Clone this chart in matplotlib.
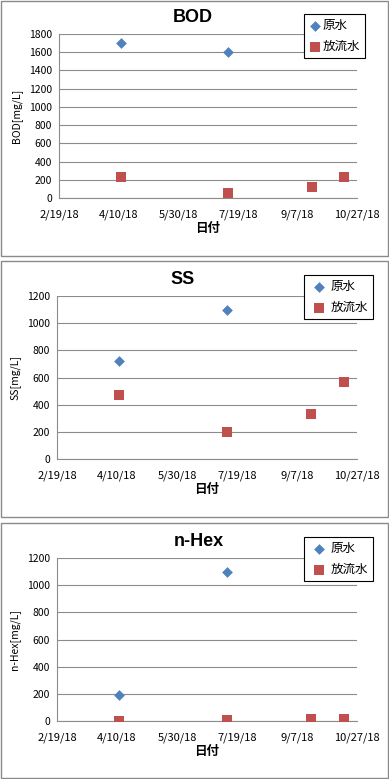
import numpy as np
import pandas as pd
import matplotlib
matplotlib.use("Agg")
import matplotlib.pyplot as plt
from matplotlib.patches import Rectangle

plt.rcParams['font.family'] = ['Noto Sans CJK JP', 'DejaVu Sans']

# data
raw_dates = pd.to_datetime(["2018-04-12", "2018-07-11"])
eff_dates = pd.to_datetime(["2018-04-12", "2018-07-11", "2018-09-19", "2018-10-16"])

bod_raw = [1700, 1600]
bod_eff = [230, 60, 120, 230]
ss_raw = [720, 1100]
ss_eff = [470, 200, 330, 570]
hex_raw = [190, 1100]
hex_eff = [3, 10, 17, 17]

titles = ["BOD", "SS", "n-Hex"]
ylabels = ["BOD[mg/L]", "SS[mg/L]", "n-Hex[mg/L]"]
ymax = [1800, 1200, 1200]
ystep = [200, 200, 200]
xtick_dates = ["2018-02-19", "2018-04-10", "2018-05-30", "2018-07-19", "2018-09-07", "2018-10-27"]
xtick_labels = ["2/19/18", "4/10/18", "5/30/18", "7/19/18", "9/7/18", "10/27/18"]
legend_labels = ["原水", "放流水"]

W, H = 389, 779
fig = plt.figure(figsize=(W / 100, H / 100), dpi=100)

# panel frames (px): top, bottom ; plot areas (px): left, right, top, bottom
frames = [(1, 256), (261, 517), (523, 778)]
areas = [(59, 357, 34, 198), (57, 357, 296, 459), (57, 357, 558, 721)]
title_pos = [(193, 17), (183, 279), (199, 541)]
legend_box = [(304, 14), (304, 275), (304, 537)]

raws = [bod_raw, ss_raw, hex_raw]
effs = [bod_eff, ss_eff, hex_eff]

grid_c = "#8c8c8c"

for i in range(3):
    ft, fb = frames[i]
    fig.patches.append(Rectangle((1 / W, 1 - fb / H), 387 / W, (fb - ft) / H,
                                 transform=fig.transFigure, fill=False,
                                 edgecolor="#8a8a8a", linewidth=1.0))
    l, r, t, b = areas[i]
    ax = fig.add_axes([l / W, 1 - b / H, (r - l) / W, (b - t) / H])
    ax.scatter(raw_dates, raws[i], marker="D", s=30, color="#4F81BD",
               label=legend_labels[0], zorder=3, linewidths=0)
    ax.scatter(eff_dates, effs[i], marker="s", s=44, color="#C0504D",
               label=legend_labels[1], zorder=3, linewidths=0)
    ax.set_xlim(pd.Timestamp(xtick_dates[0]), pd.Timestamp(xtick_dates[-1]))
    ax.set_xticks(pd.to_datetime(xtick_dates))
    ax.set_xticklabels(xtick_labels)
    ax.set_ylim(0, ymax[i])
    ax.set_yticks(np.arange(0, ymax[i] + 1, ystep[i]))
    ax.yaxis.grid(True, color=grid_c, linewidth=0.8)
    ax.set_axisbelow(True)
    for s in ["top", "right"]:
        ax.spines[s].set_visible(False)
    ax.spines["left"].set_color(grid_c)
    ax.spines["bottom"].set_color(grid_c)
    ax.tick_params(axis="y", labelsize=7.5, length=0, pad=5)
    ax.tick_params(axis="x", labelsize=8, length=0, pad=8)
    ax.set_ylabel(ylabels[i], fontsize=7.5, labelpad=5)
    ax.set_xlabel("日付", fontsize=9, fontweight="bold", labelpad=2)
    tx, ty = title_pos[i]
    fig.text(tx / W, 1 - ty / H, titles[i],
             fontsize=13, fontweight="bold", ha="center", va="center",
             family=["Liberation Sans", "DejaVu Sans"])
    lx, ly = legend_box[i]
    leg = ax.legend(loc="upper left", bbox_to_anchor=(lx / W, 1 - ly / H),
                    bbox_transform=fig.transFigure, fontsize=9,
                    frameon=True, fancybox=False, framealpha=1,
                    edgecolor="black", borderaxespad=0, handletextpad=0.1,
                    labelspacing=0.65, borderpad=0.4,
                    handlelength=1.0 if i == 0 else 1.6)
    leg.get_frame().set_linewidth(0.8)

fig.savefig("out.png", dpi=100)
